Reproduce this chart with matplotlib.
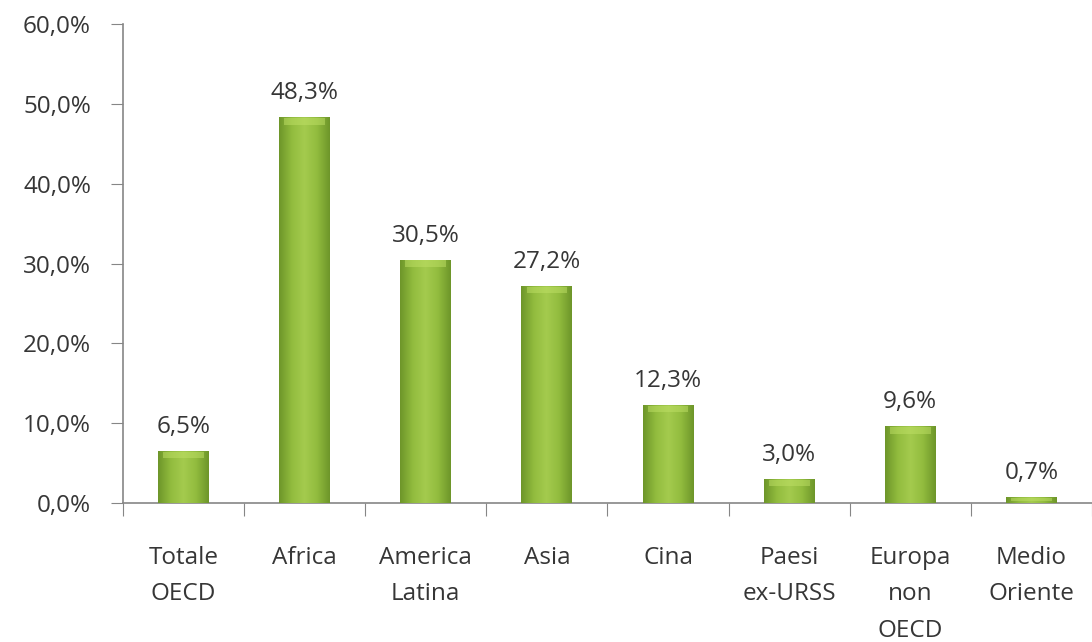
import matplotlib
matplotlib.use('Agg')

import matplotlib.pyplot as plt
import numpy as np
from matplotlib.colors import LinearSegmentedColormap

# data
categories = ['Totale\nOECD', 'Africa', 'America\nLatina', 'Asia', 'Cina',
              'Paesi\nex-URSS', 'Europa\nnon\nOECD', 'Medio\nOriente']
values = [6.5, 48.3, 30.5, 27.2, 12.3, 3.0, 9.6, 0.7]
yticks = [0, 10, 20, 30, 40, 50, 60]

TEXT = '#363636'
AXIS = '#868686'
FONT = 'Open Sans'
FS = 17.5

plt.rcParams['font.family'] = [FONT, 'DejaVu Sans']

fig = plt.figure(figsize=(10.92, 6.42), dpi=100, facecolor='white')
ax = fig.add_axes([0.1126, 0.2165, 0.8874, 0.7461])

x = np.arange(len(categories))
width = 0.42

# shaded green bars (darker edges, lighter centre)
cmap = LinearSegmentedColormap.from_list(
    'bar', ['#6e962a', '#92bc3e', '#a4cb4e', '#92bc3e', '#6e962a'])
grad = np.linspace(0, 1, 64).reshape(1, -1)
bars = ax.bar(x, values, width=width, color='#8db63a', edgecolor='none', zorder=2)
for b in bars:
    x0, y0 = b.get_x(), b.get_y()
    w, h = b.get_width(), b.get_height()
    im = ax.imshow(grad, cmap=cmap, aspect='auto', extent=(x0, x0 + w, y0, y0 + h),
                   zorder=3, interpolation='bicubic')
    im.set_clip_path(b)
    # top highlight
    hh = min(0.9, h * 0.6)
    ax.fill_between([x0 + w * 0.1, x0 + w * 0.9], y0 + h - hh, y0 + h - 0.1,
                    color='#bfe066', alpha=0.5, linewidth=0, zorder=4)

for xi, v in zip(x, values):
    ax.text(xi, v + 1.5, ('%.1f%%' % v).replace('.', ','), ha='center', va='bottom',
            fontsize=FS, color=TEXT)

ax.set_xlim(-0.5, len(categories) - 0.5)
ax.set_ylim(0, 60)
ax.set_yticks(yticks)
ax.set_yticklabels([('%.1f%%' % t).replace('.', ',') for t in yticks],
                   fontsize=FS, color=TEXT)
ax.tick_params(axis='y', length=9, color=AXIS, pad=14)

# category labels, ticks at boundaries
ax.set_xticks(np.arange(len(categories) + 1) - 0.5)
ax.set_xticklabels([])
ax.tick_params(axis='x', length=9, color=AXIS)
for xi, lab in zip(x, categories):
    ax.text(xi, -0.09, lab, transform=ax.get_xaxis_transform(), ha='center', va='top',
            fontsize=FS, color=TEXT, linespacing=1.68)

for s in ['top', 'right']:
    ax.spines[s].set_visible(False)
for s in ['left', 'bottom']:
    ax.spines[s].set_color(AXIS)
    ax.spines[s].set_linewidth(1.2)

fig.savefig('out.png', dpi=100, facecolor='white')
